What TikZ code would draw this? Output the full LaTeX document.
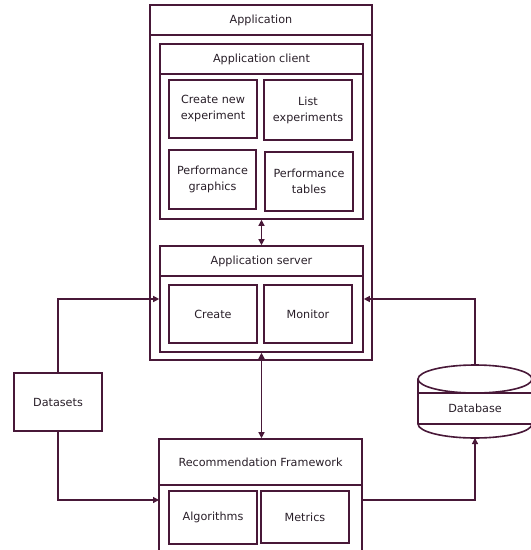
\documentclass[tikz,border=0pt]{standalone}
\usepackage{fontspec}
\setmainfont{DejaVu Sans}
\usetikzlibrary{arrows.meta}
\definecolor{ink}{RGB}{72,24,56}
\definecolor{txt}{RGB}{40,30,40}
\begin{document}
\begin{tikzpicture}[x=1bp,y=-1bp,
  every node/.style={font=\fontsize{11.2bp}{16bp}\selectfont, text=txt},
  box/.style={draw=ink, line width=1.6bp, inner sep=0pt, align=center, rectangle},
  lbl/.style={inner sep=0pt, align=center},
  conn/.style={draw=ink, line width=1.3bp, arrows={-Triangle[length=6bp,width=6bp]}},
  dconn/.style={draw=ink, line width=1.3bp, arrows={Triangle[length=6bp,width=6bp]-Triangle[length=6bp,width=6bp]}},
  div/.style={draw=ink, line width=1.6bp}]
\useasboundingbox (0,0) rectangle (531,550);
\clip (0,0) rectangle (531,550);

% Application
\node[box, minimum width=222bp, minimum height=355bp] (app) at (261,182.5) {};
\node[lbl] (apptitle) at (261,20) {Application};
\draw[div] (150,35) -- (372,35);

% Application client
\node[box, minimum width=203bp, minimum height=175bp] (client) at (261.5,131.5) {};
\node[lbl] (clienttitle) at (261.5,59) {Application client};
\draw[div] (160,74) -- (363,74);
\node[box, minimum width=88bp, minimum height=58bp] (cne) at (213,109) {Create new\\experiment};
\node[box, minimum width=88bp, minimum height=60bp] (list) at (308,110) {List\\experiments};
\node[box, minimum width=87bp, minimum height=59bp] (pg) at (212.5,179.5) {Performance\\graphics};
\node[box, minimum width=88bp, minimum height=59bp] (pt) at (309,181.5) {Performance\\tables};

% Application server
\node[box, minimum width=203bp, minimum height=106bp] (server) at (261.5,299) {};
\node[lbl] (servertitle) at (261.5,261) {Application server};
\draw[div] (160,276) -- (363,276);
\node[box, minimum width=88bp, minimum height=58bp] (create) at (213,314) {Create};
\node[box, minimum width=88bp, minimum height=58bp] (monitor) at (308,314) {Monitor};

% Datasets
\node[box, minimum width=88bp, minimum height=58bp] (datasets) at (58,402) {Datasets};

% Recommendation Framework
\node[box, minimum width=203bp, minimum height=161bp] (rf) at (260.5,519.5) {};
\node[lbl] (rftitle) at (260.5,462) {Recommendation Framework};
\draw[div] (159,485) -- (362,485);
\node[box, minimum width=88bp, minimum height=53bp] (algo) at (213,517.5) {Algorithms};
\node[box, minimum width=88bp, minimum height=52bp] (metrics) at (305,517) {Metrics};

% Database cylinder
\draw[div] (418,379) -- (418,424) arc[start angle=180, end angle=0, x radius=57, y radius=14] -- (532,379);
\draw[div] (475,379) ellipse[x radius=57, y radius=14];
\draw[div] (418,393) -- (532,393);
\draw[div] (418,424) -- (532,424);
\node[lbl] (db) at (475,408.5) {Database};
\coordinate (dbtop) at (475,365);
\coordinate (dbbot) at (475,438);
\coordinate (rfin) at (159,500);
\coordinate (rfout) at (362,500);

% Connectors
\draw[dconn] (client.south) -- (server.north);
\draw[dconn] (server.south) -- (server.south |- rf.north);
\draw[conn] (datasets.north) |- (server.west);
\draw[conn] (datasets.south) |- (rfin);
\draw[conn] (dbtop) |- (server.east);
\draw[conn] (rfout) -| (dbbot);
\end{tikzpicture}
\end{document}
